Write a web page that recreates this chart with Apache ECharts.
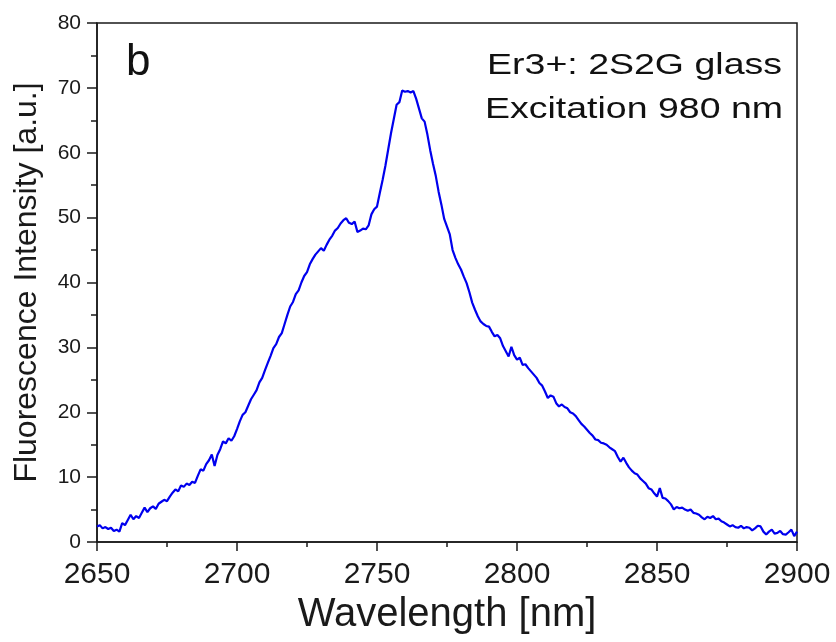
<!DOCTYPE html>
<html>
<head>
<meta charset="utf-8">
<script src="https://cdn.jsdelivr.net/npm/echarts@6/dist/echarts.min.js"></script>
<style>html,body{margin:0;padding:0;background:#fff}#c{width:836px;height:642px}</style>
</head>
<body>
<div id="c"></div>
<script>
var wavelengthStart = 2650;
var intensity = [
2.4,2.6,2.1,2.3,2.0,2.2,1.7,1.9,1.6,2.9,
2.6,3.4,4.2,3.5,4.0,3.7,4.5,5.3,4.6,5.2,
5.5,5.1,5.9,6.2,6.5,6.3,7.0,7.6,8.1,7.8,
8.7,8.5,9.0,8.8,9.3,9.1,10.2,11.2,11.0,12.0,
12.6,13.5,11.7,13.4,14.3,15.5,15.2,16.0,15.6,16.3,
17.4,18.6,19.6,20.0,21.0,22.0,22.7,23.4,24.6,25.3,
26.5,27.6,28.7,29.9,30.5,31.6,32.2,33.6,35.0,36.3,
37.0,38.2,38.8,40.0,41.0,41.6,42.8,43.6,44.3,44.8,
45.3,44.9,45.8,46.6,47.2,48.0,48.4,49.1,49.6,49.9,
49.2,49.0,49.4,47.8,48.0,48.3,48.2,48.8,50.5,51.3,
51.7,53.8,55.8,58.0,60.5,63.0,65.2,67.4,67.8,69.6,
69.4,69.5,69.3,69.5,68.3,66.8,65.3,64.8,62.8,60.4,
58.3,56.4,54.0,52.0,49.8,48.6,47.4,45.0,43.8,42.8,
42.0,40.9,39.9,38.5,36.9,35.8,34.8,34.0,33.6,33.3,
33.2,32.4,31.7,31.9,31.4,30.2,29.4,28.6,30.1,28.8,
28.1,28.4,27.3,27.4,26.8,26.3,25.8,25.3,24.5,24.1,
23.2,22.2,22.6,22.4,21.4,20.9,21.2,20.8,20.6,20.0,
19.8,19.4,18.8,18.2,17.8,17.3,16.8,16.4,15.8,15.7,
15.3,15.2,15.0,14.6,14.3,14.0,13.1,12.4,13.0,12.2,
11.5,11.0,10.6,10.4,9.8,9.4,9.0,8.3,8.1,7.5,
7.0,8.3,6.8,6.7,6.3,5.8,5.0,5.4,5.2,5.3,
5.0,4.8,5.0,4.5,4.4,4.2,3.8,3.5,3.9,3.7,
4.0,3.5,3.6,3.2,3.0,2.7,2.4,2.6,2.3,2.2,
2.5,2.1,2.3,2.2,1.8,2.1,2.5,2.4,1.6,1.15,
1.6,1.9,1.3,1.4,1.7,1.2,1.15,1.5,1.9,0.9,
1.6
];
var wavelengths = intensity.map(function(_, i){ return wavelengthStart + i; });
var xTicks = [2650, 2700, 2750, 2800, 2850, 2900];
var yTicks = [0, 10, 20, 30, 40, 50, 60, 70, 80];
var panelLabel = 'b';
var noteLines = ['Er3+: 2S2G glass', 'Excitation 980 nm'];
var xTitle = 'Wavelength [nm]';
var yTitle = 'Fluorescence Intensity [a.u.]';

var FONT = 'Liberation Sans, Arial, Helvetica, sans-serif';
var chart = echarts.init(document.getElementById('c'), null, {renderer: 'canvas'});
var data = wavelengths.map(function(w, i){ return [w, intensity[i]]; });

chart.setOption({
  animation: false,
  backgroundColor: '#ffffff',
  grid: {left: 97, right: 39, top: 23, bottom: 100, show: true, borderColor: '#1a1a1a', borderWidth: 1.5, backgroundColor: 'transparent'},
  xAxis: {
    type: 'value', min: xTicks[0], max: xTicks[xTicks.length-1], interval: 50,
    name: xTitle, nameLocation: 'middle', nameGap: 47,
    nameTextStyle: {fontFamily: FONT, fontSize: 40, color: '#1a1a1a'},
    axisLine: {show: true, lineStyle: {color: '#1a1a1a', width: 1.5}},
    axisTick: {show: true, inside: false, length: 9, lineStyle: {color: '#1a1a1a', width: 1.5}},
    minorTick: {show: true, splitNumber: 2, length: 5, lineStyle: {color: '#1a1a1a', width: 1.5}},
    axisLabel: {fontFamily: FONT, fontSize: 30, color: '#1a1a1a', margin: 18,
      formatter: function(v){ return String(v); }},
    splitLine: {show: false}
  },
  yAxis: {
    type: 'value', min: yTicks[0], max: yTicks[yTicks.length-1], interval: 10,
    name: yTitle, nameLocation: 'middle', nameGap: 54, nameRotate: 90,
    nameTextStyle: {fontFamily: FONT, fontSize: 32, color: '#1a1a1a'},
    axisLine: {show: true, lineStyle: {color: '#1a1a1a', width: 1.5}},
    axisTick: {show: true, inside: false, length: 10, lineStyle: {color: '#1a1a1a', width: 1.5}},
    minorTick: {show: true, splitNumber: 2, length: 6, lineStyle: {color: '#1a1a1a', width: 1.5}},
    axisLabel: {fontFamily: FONT, fontSize: 21, color: '#1a1a1a', margin: 16},
    splitLine: {show: false}
  },
  series: [{
    type: 'line', data: data, showSymbol: false, symbol: 'none',
    lineStyle: {color: '#0000ee', width: 2.2}, smooth: false
  }],
  graphic: [
    {type: 'text', x: 126, y: 41, style: {text: panelLabel, font: '44px ' + FONT, fill: '#111'}},
    {type: 'text', x: 782, y: 51, scaleX: 1.25, style: {text: noteLines[0], font: '30px ' + FONT, fill: '#111', align: 'right', textAlign: 'right'}},
    {type: 'text', x: 783, y: 95, scaleX: 1.25, style: {text: noteLines[1], font: '30px ' + FONT, fill: '#111', align: 'right', textAlign: 'right'}}
  ]
});
</script>
</body>
</html>
